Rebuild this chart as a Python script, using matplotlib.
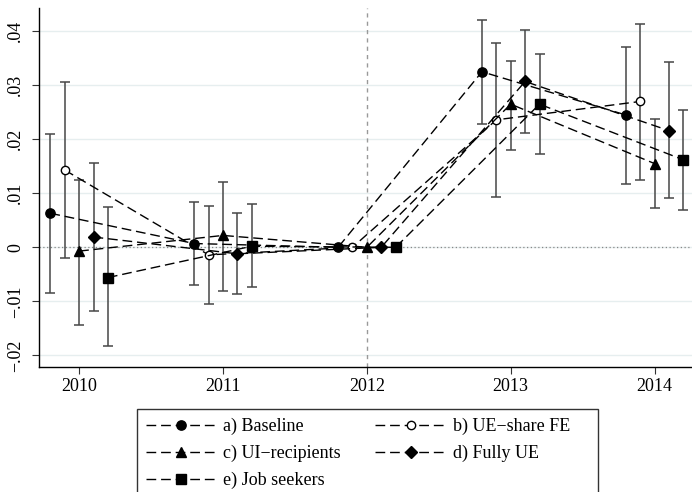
import matplotlib
matplotlib.use("Agg")
import matplotlib.pyplot as plt
from matplotlib.patches import Rectangle
import numpy as np

plt.rcParams['font.family'] = ['Liberation Serif', 'DejaVu Serif']

years = [2010, 2011, 2012, 2013, 2014]
offsets = [-0.2, -0.1, 0.0, 0.1, 0.2]

labels = ["a) Baseline", "b) UE\u2212share FE", "c) UI\u2212recipients",
          "d) Fully UE", "e) Job seekers"]
markers = ["o", "o", "^", "D", "s"]
filled = [True, False, True, True, True]
msizes = [6.7, 6.0, 7.6, 6.2, 6.7]

# point estimates (2012 is the reference year, fixed at zero)
baseline = [0.0063, 0.0007, 0.0, 0.0325, 0.0245]
ue_share = [0.0143, -0.0014, 0.0, 0.0236, 0.0270]
ui_recip = [-0.0007, 0.0022, 0.0, 0.0265, 0.0155]
fully_ue = [0.0019, -0.0012, 0.0, 0.0307, 0.0216]
job_seek = [-0.0056, 0.0002, 0.0, 0.0265, 0.0162]

# 95% confidence bounds
baseline_lo = [-0.0085, -0.0069, np.nan, 0.0228, 0.0118]
baseline_hi = [0.0210, 0.0084, np.nan, 0.0421, 0.0371]
ue_share_lo = [-0.0019, -0.0105, np.nan, 0.0093, 0.0125]
ue_share_hi = [0.0306, 0.0076, np.nan, 0.0378, 0.0414]
ui_recip_lo = [-0.0143, -0.0081, np.nan, 0.0181, 0.0072]
ui_recip_hi = [0.0125, 0.0121, np.nan, 0.0344, 0.0237]
fully_ue_lo = [-0.0118, -0.0086, np.nan, 0.0211, 0.0091]
fully_ue_hi = [0.0157, 0.0063, np.nan, 0.0403, 0.0343]
job_seek_lo = [-0.0183, -0.0074, np.nan, 0.0173, 0.0070]
job_seek_hi = [0.0074, 0.0080, np.nan, 0.0357, 0.0254]

estimates = [baseline, ue_share, ui_recip, fully_ue, job_seek]
lows = [baseline_lo, ue_share_lo, ui_recip_lo, fully_ue_lo, job_seek_lo]
highs = [baseline_hi, ue_share_hi, ui_recip_hi, fully_ue_hi, job_seek_hi]

yticks = [-0.02, -0.01, 0.0, 0.01, 0.02, 0.03, 0.04]
ytick_labels = ["\u2212.02", "\u2212.01", "0", ".01", ".02", ".03", ".04"]

fig = plt.figure(figsize=(6.92, 4.92), dpi=100)
ax = fig.add_axes([0.057, 0.2547, 0.943, 0.729])

for y in yticks:
    ax.axhline(y, color="#e6eeef", lw=1.0, zorder=0)
ax.axhline(0, color="#888888", lw=0.9, ls=(0, (1, 2)), zorder=1)
ax.axvline(2012, color="#999999", lw=1.0, ls=(0, (3, 3)), zorder=1)

handles = []
for k in range(5):
    x = np.array(years) + offsets[k]
    est = np.array(estimates[k])
    lo = np.array(lows[k])
    hi = np.array(highs[k])
    ok = ~np.isnan(lo)
    ax.errorbar(x[ok], est[ok], yerr=[est[ok] - lo[ok], hi[ok] - est[ok]],
                fmt="none", ecolor="#474747", elinewidth=1.1, capsize=3.6,
                capthick=1.1, zorder=2)
    face = "black" if filled[k] else "white"
    h, = ax.plot(x, est, color="black", lw=1.0, ls=(0, (7, 3.5)),
                 marker=markers[k], ms=msizes[k],
                 mfc=face, mec="black", mew=1.0, label=labels[k], zorder=3)
    handles.append(h)

ax.set_xlim(2009.724, 2014.26)
ax.set_ylim(-0.0221, 0.0443)
ax.set_xticks(years)
ax.set_xticklabels([str(y) for y in years])
ax.set_yticks(yticks)
ax.set_yticklabels(ytick_labels, rotation=90, va="center")
ax.tick_params(axis="both", labelsize=13, length=5, width=0.8, color="#333333")
ax.tick_params(axis="y", pad=6)
ax.tick_params(axis="x", pad=3)
for side in ["top", "right"]:
    ax.spines[side].set_visible(False)
for side in ["left", "bottom"]:
    ax.spines[side].set_linewidth(1.0)

# legend entries laid out row by row: a b / c d / e
order = [0, 2, 4, 1, 3]
leg_left = 136.7 / 692
leg_top = 1 - 409 / 492
leg_right = 598.3 / 692
fig.legend([handles[i] for i in order], [labels[i] for i in order],
           ncol=2, loc="upper left",
           bbox_to_anchor=(leg_left, leg_top),
           bbox_transform=fig.transFigure,
           fontsize=13, frameon=False,
           handlelength=3.9, handletextpad=0.4, columnspacing=1.9,
           labelspacing=0.53, borderpad=0.5, borderaxespad=0)
fig.patches.append(Rectangle((leg_left, -0.05), leg_right - leg_left,
                             leg_top + 0.05, transform=fig.transFigure,
                             fill=False, edgecolor="#333333", lw=1.0))

fig.savefig("out.png", dpi=100)
